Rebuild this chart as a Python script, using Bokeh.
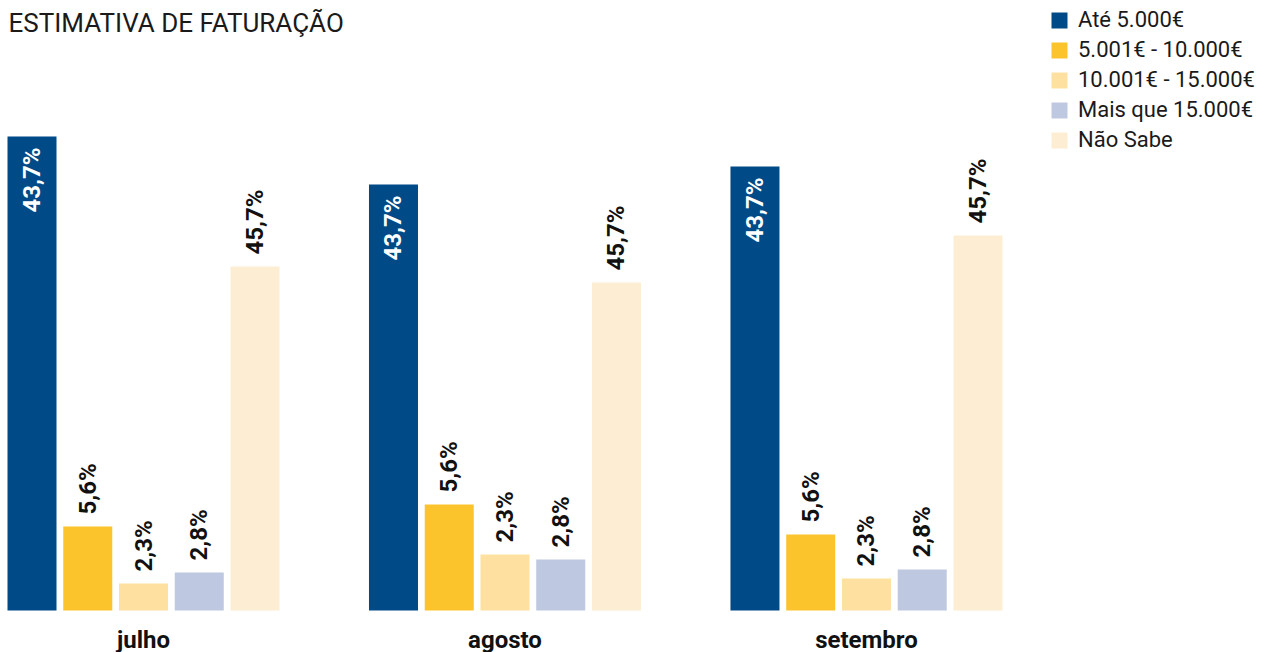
import math
from bokeh.plotting import figure
from bokeh.models import ColumnDataSource, LabelSet, Label, Legend, LegendItem, Range1d
from bokeh.embed import file_html
from bokeh.resources import INLINE
from bokeh.core.properties import value

# ---- data -------------------------------------------------------------
months = ["julho", "agosto", "setembro"]
categories = ["Até 5.000€", "5.001€ - 10.000€", "10.001€ - 15.000€",
              "Mais que 15.000€", "Não Sabe"]
colors = ["#004a87", "#fbc32c", "#fee0a0", "#bec8e0", "#fdeed3"]

# bar heights as drawn (per month: julho, agosto, setembro)
ate_5000 = [47.4, 42.6, 44.4]
de_5001_a_10000 = [8.4, 10.6, 7.6]
de_10001_a_15000 = [2.7, 5.6, 3.2]
mais_15000 = [3.8, 5.1, 4.1]
nao_sabe = [34.4, 32.8, 37.5]
series = [ate_5000, de_5001_a_10000, de_10001_a_15000, mais_15000, nao_sabe]

# printed value labels (same text in every month)
value_labels = ["43,7%", "5,6%", "2,3%", "2,8%", "45,7%"]

title_text = "ESTIMATIVA DE FATURAÇÃO"

# ---- layout constants ---------------------------------------------------
W, H = 1269, 652
SLOT_PX = 55.75          # one bar slot, in pixels
GROUP_GAP = 1.484        # extra empty slots between months
BAR_W = 0.879            # bar width, in slots
LEFT_PX = 7              # left edge of first bar
BASE_PX = 42             # distance of bar baseline from bottom
Y_PX = 10.0              # pixels per value unit

n = len(categories)
x_start = -BAR_W / 2 - LEFT_PX / SLOT_PX
x_end = x_start + W / SLOT_PX
y_start = -BASE_PX / Y_PX
y_end = y_start + H / Y_PX

def slot(g, i):
    return g * (n + GROUP_GAP) + i

p = figure(x_range=Range1d(x_start, x_end), y_range=Range1d(y_start, y_end),
           width=W, height=H,
           min_border_left=0, min_border_right=0,
           min_border_top=0, min_border_bottom=0,
           x_axis_location=None, y_axis_location=None,
           output_backend="svg", toolbar_location=None, tools="")
p.outline_line_color = None
p.xgrid.visible = False
p.ygrid.visible = False
p.background_fill_color = "white"
p.border_fill_color = "white"

FONT = value("Roboto")

items = []
outside = {"x": [], "top": [], "text": []}
inside = {"x": [], "top": [], "text": []}
for i, (cat, vals, col) in enumerate(zip(categories, series, colors)):
    xs = [slot(g, i) for g in range(len(months))]
    src = ColumnDataSource(dict(x=xs, top=vals))
    r = p.vbar(x="x", top="top", width=BAR_W, source=src,
               fill_color=col, line_color=None)
    items.append(LegendItem(label=cat, renderers=[r]))
    target = inside if i == 0 else outside
    target["x"] += xs
    target["top"] += vals
    target["text"] += [value_labels[i]] * len(months)

p.add_layout(LabelSet(x="x", y="top", text="text", source=ColumnDataSource(inside),
                      angle=math.pi / 2, text_align="right", text_baseline="middle",
                      y_offset=-11, text_font=FONT, text_font_style="bold",
                      text_font_size="24px", text_color="white"))
p.add_layout(LabelSet(x="x", y="top", text="text", source=ColumnDataSource(outside),
                      angle=math.pi / 2, text_align="left", text_baseline="middle",
                      y_offset=12, text_font=FONT, text_font_style="bold",
                      text_font_size="24px", text_color="#111111"))

month_x = [slot(g, (n - 1) / 2) for g in range(len(months))]
month_src = ColumnDataSource(dict(x=month_x, y=[0] * len(months), text=months))
p.add_layout(LabelSet(x="x", y="y", text="text", source=month_src,
                      text_align="center", text_baseline="alphabetic",
                      y_offset=-37, text_font=FONT, text_font_style="bold",
                      text_font_size="24px", text_color="#111111"))

p.add_layout(Label(x=8, y=H - 22, x_units="screen", y_units="screen",
                   text=title_text, text_font="Roboto", text_font_size="26px",
                   text_baseline="alphabetic", text_align="left",
                   text_color="#1a1a1a"))

legend = Legend(items=items, location=(1049, 500),
                glyph_width=20, glyph_height=20, label_standoff=9,
                label_height=25, spacing=5, padding=0, margin=0,
                border_line_color=None, background_fill_alpha=0,
                label_text_font="Roboto", label_text_font_size="22px",
                label_text_color="#1a1a1a")
p.add_layout(legend)

open("out.html", "w").write(file_html(p, INLINE))
